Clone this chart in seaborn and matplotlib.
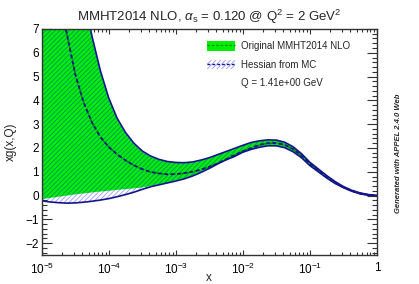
import numpy as np
import pandas as pd
import matplotlib
matplotlib.use("Agg")
import matplotlib.pyplot as plt
import seaborn as sns
from matplotlib.patches import Patch
from matplotlib.lines import Line2D
from matplotlib.ticker import FixedLocator, MultipleLocator, NullFormatter

# log10(x) grid the values were read at
LOG_X = [-5.0, -4.875, -4.75, -4.625, -4.5, -4.375, -4.25, -4.125, -4.0, -3.875,
         -3.75, -3.625, -3.5, -3.375, -3.25, -3.125, -3.0, -2.875, -2.75, -2.625,
         -2.5, -2.375, -2.25, -2.125, -2.0, -1.875, -1.75, -1.625, -1.5, -1.375,
         -1.25, -1.125, -1.0, -0.875, -0.75, -0.625, -0.5, -0.375, -0.25, -0.125, 0.0]

# original MMHT2014 NLO band
ORIG_UP = [21.0, 18.0, 15.0, 12.5, 10.3, 8.4, 6.65, 5.2, 4.05, 3.2,
           2.6, 2.16, 1.83, 1.63, 1.50, 1.41, 1.37, 1.36, 1.39, 1.47,
           1.57, 1.70, 1.83, 1.96, 2.09, 2.21, 2.28, 2.32, 2.31, 2.22,
           2.03, 1.74, 1.38, 1.10, 0.82, 0.57, 0.37, 0.21, 0.10, 0.03, 0.0]
ORIG_CV = [12.3, 10.2, 8.4, 6.8, 5.1, 3.92, 3.07, 2.46, 2.04, 1.73,
           1.48, 1.27, 1.11, 0.99, 0.93, 0.89, 0.90, 0.94, 1.00, 1.09,
           1.21, 1.35, 1.52, 1.70, 1.86, 2.00, 2.13, 2.20, 2.21, 2.13,
           1.95, 1.68, 1.33, 1.06, 0.79, 0.55, 0.35, 0.20, 0.09, 0.03, 0.0]
ORIG_LO = [-0.15, -0.10, -0.05, 0.0, 0.05, 0.09, 0.13, 0.17, 0.20, 0.24,
           0.27, 0.30, 0.34, 0.40, 0.47, 0.55, 0.63, 0.72, 0.84, 0.99,
           1.16, 1.35, 1.52, 1.66, 1.84, 1.96, 2.05, 2.11, 2.11, 2.03,
           1.86, 1.61, 1.28, 1.02, 0.76, 0.53, 0.34, 0.19, 0.08, 0.02, 0.0]

# Hessian from MC band
HESS_UP = [21.1, 18.1, 15.1, 12.6, 10.4, 8.45, 6.7, 5.25, 4.1, 3.25,
           2.65, 2.20, 1.87, 1.66, 1.52, 1.43, 1.39, 1.38, 1.41, 1.49,
           1.59, 1.72, 1.85, 1.98, 2.11, 2.23, 2.30, 2.34, 2.33, 2.24,
           2.05, 1.76, 1.40, 1.12, 0.84, 0.59, 0.38, 0.22, 0.11, 0.04, 0.0]
HESS_CV = [12.3, 10.2, 8.4, 6.8, 5.1, 3.92, 3.07, 2.46, 2.04, 1.73,
           1.48, 1.27, 1.11, 0.99, 0.93, 0.89, 0.90, 0.94, 1.00, 1.09,
           1.21, 1.35, 1.52, 1.70, 1.86, 2.00, 2.13, 2.20, 2.21, 2.13,
           1.95, 1.68, 1.33, 1.06, 0.79, 0.55, 0.35, 0.20, 0.09, 0.03, 0.0]
HESS_LO = [-0.22, -0.27, -0.30, -0.32, -0.31, -0.28, -0.24, -0.19, -0.13, -0.05,
           0.04, 0.14, 0.26, 0.37, 0.45, 0.53, 0.61, 0.70, 0.82, 0.97,
           1.14, 1.33, 1.50, 1.64, 1.82, 1.94, 2.03, 2.09, 2.09, 2.01,
           1.84, 1.59, 1.26, 1.00, 0.74, 0.51, 0.33, 0.18, 0.07, 0.01, 0.0]

X_TICKS = [1e-5, 1e-4, 1e-3, 1e-2, 1e-1, 1.0]
X_TICK_LABELS = ["$10^{-5}$", "$10^{-4}$", "$10^{-3}$", "$10^{-2}$", "$10^{-1}$", "1"]
Y_TICKS = [-2, -1, 0, 1, 2, 3, 4, 5, 6, 7]

GREEN = "#00ee00"
NAVY = "#14148c"
HATCH_BLUE = (0.1, 0.1, 1.0, 0.45)
HATCH = "///////"

sns.set_theme(style="ticks")
plt.rcParams["font.family"] = ["Liberation Sans", "DejaVu Sans"]
plt.rcParams["mathtext.fontset"] = "custom"
plt.rcParams["mathtext.rm"] = "Liberation Sans"
plt.rcParams["mathtext.it"] = "Liberation Sans:italic"
plt.rcParams["hatch.linewidth"] = 0.6

df = pd.DataFrame({"x": 10.0 ** np.array(LOG_X),
                   "orig_up": ORIG_UP, "orig_cv": ORIG_CV, "orig_lo": ORIG_LO,
                   "hess_up": HESS_UP, "hess_cv": HESS_CV, "hess_lo": HESS_LO})

fig = plt.figure(figsize=(4.19, 2.84), dpi=100)
ax = fig.add_axes([0.0995, 0.102, 0.80, 0.796])

# original band: plain green fill
ax.fill_between(df["x"], df["orig_lo"], df["orig_up"], facecolor=GREEN, edgecolor="none", lw=0)
sns.lineplot(data=df, x="x", y="orig_cv", ax=ax, color="#008800", lw=1.1, dashes=(2, 1.5), linestyle="--")

# Hessian band: transparent blue hatching, solid edges, dashed central value
ax.fill_between(df["x"], df["hess_lo"], df["hess_up"], facecolor="none",
                edgecolor=HATCH_BLUE, hatch=HATCH, lw=0)
for col in ("hess_up", "hess_lo"):
    sns.lineplot(data=df, x="x", y=col, ax=ax, color=NAVY, lw=1.2)
ax.plot(df["x"], df["hess_cv"], color=NAVY, lw=1.3, dashes=(2, 1.5))

ax.set_xscale("log")
ax.set_xlim(1e-5, 1.0)
ax.set_ylim(-2.5, 7)
ax.set_xticks(X_TICKS)
ax.set_xticklabels(X_TICK_LABELS)
ax.xaxis.set_minor_locator(FixedLocator([m * 10.0 ** e for e in range(-5, 0) for m in range(2, 10)]))
ax.xaxis.set_minor_formatter(NullFormatter())
ax.set_yticks(Y_TICKS)
ax.set_yticklabels([str(v).replace("-", "\u2212") for v in Y_TICKS])
ax.yaxis.set_minor_locator(MultipleLocator(0.2))

ax.tick_params(axis="both", which="both", direction="in", top=True, right=True,
               colors="#333333", labelcolor="black", labelsize=8.5, width=0.8)
ax.tick_params(axis="x", which="major", length=3.8, pad=5)
ax.tick_params(axis="x", which="minor", length=2.0)
ax.tick_params(axis="y", which="major", length=7.0, pad=2)
ax.tick_params(axis="y", which="minor", length=3.6)
for spine in ax.spines.values():
    spine.set_visible(True)
    spine.set_edgecolor("#333333")
    spine.set_linewidth(1.0)

ax.set_xlabel("x", fontsize=8.5)
ax.xaxis.set_label_coords(0.5, -0.075)
ax.set_ylabel("xg(x,Q)", fontsize=8.5, labelpad=6)
ax.set_title(r"MMHT2014 NLO, $\alpha_{\mathrm{s}}$ = 0.120 @ $\mathrm{Q^{2}}$ = 2 GeV$^{2}$",
             fontsize=9.5, pad=6)

handles = [
    (Patch(facecolor=GREEN, edgecolor="none"),
     Line2D([], [], color="#008800", lw=0.9, dashes=(2, 1.5))),
    (Patch(facecolor="none", edgecolor=HATCH_BLUE, hatch=HATCH, lw=0),
     Line2D([], [], color=NAVY, lw=1.0, dashes=(2, 1.5))),
    Patch(facecolor="none", edgecolor="none"),
]
labels = ["Original MMHT2014 NLO", "Hessian from MC", "Q = 1.41e+00 GeV"]
ax.legend(handles, labels, loc="upper left", bbox_to_anchor=(0.472, 0.975), frameon=False,
          fontsize=7, handlelength=2.9, handleheight=1.1, handletextpad=0.6,
          labelspacing=0.85, borderpad=0.2)

fig.text(0.952, 0.46, "Generated with APPEL 2.4.0 Web", rotation=90, fontsize=5.5,
         fontstyle="italic", fontweight="bold", ha="center", va="center")

fig.savefig("out.png", dpi=100)
